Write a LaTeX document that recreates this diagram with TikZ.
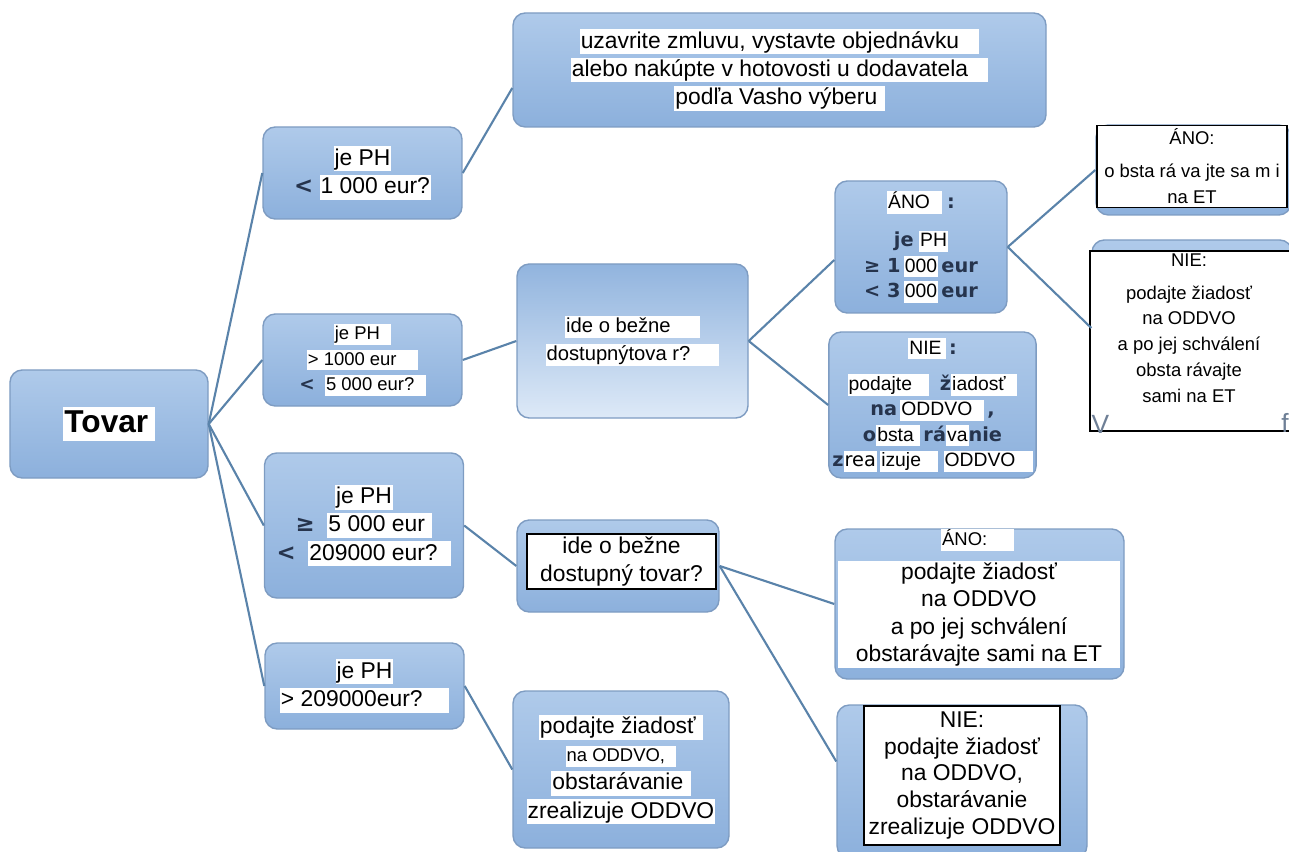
\documentclass[tikz,border=0pt]{standalone}
\usepackage{fontspec}
\setmainfont{Liberation Sans}
\newfontfamily\djv{DejaVu Sans}
\usepackage{tikz}
\usetikzlibrary{positioning}
\usepackage{xcolor}
\definecolor{tvTop}{HTML}{AFCAEA}
\definecolor{tvBottom}{HTML}{8CB0DC}
\definecolor{tvPale}{HTML}{DDE9F7}
\definecolor{tvBorder}{HTML}{7E9CC2}
\definecolor{tvLine}{HTML}{5A83AA}
\definecolor{tvInk}{HTML}{26344D}
\definecolor{tvGhost}{HTML}{6E7F96}

\newcommand{\fsz}[2]{\fontsize{#1}{#2}\selectfont}
\newcommand{\hl}[1]{{\setlength{\fboxsep}{0.6pt}\colorbox{white}{\rule[-0.22em]{0pt}{1em}#1}}}
\newcommand{\dk}{\djv\bfseries\color{tvInk}}

\tikzset{
    tvbox/.style={rectangle,rounded corners=7pt,draw=tvBorder,top color=tvTop,bottom color=tvBottom,align=center,inner sep=2pt,line width=0.8pt},
    sheet/.style={rectangle,draw=black,fill=white,align=center,inner sep=2pt,line width=0.6pt},
    link/.style={tvLine,line width=1.2pt}
}

\begin{document}
\begin{tikzpicture}[font=\fsz{13}{16},
    qbox/.style={tvbox,minimum width=3.98cm},
    note/.style={font=\fsz{15}{16},text=tvGhost,inner sep=0pt}
]
  \useasboundingbox (0,0) rectangle (25.78,-17.04);

  % Root and the four price questions
  \node[tvbox,minimum width=3.96cm,minimum height=2.16cm,font=\fsz{18}{20}\bfseries] at (2.18,-8.48) (tovar) {\hl{Tovar\,}};
  \node[qbox,minimum height=1.84cm] at (7.25,-3.46) (q1) {\hl{je PH}\\{\dk <} \hl{1 000 eur?}};
  \node[qbox,minimum height=1.84cm,font=\fsz{10.5}{14.5}] at (7.25,-7.20) (q2) {\hl{je PH\ \ }\\\hl{> 1000 eur\ \ \ \ }\\{\dk <}\ \ \hl{5 000 eur?\ \ }};
  \node[qbox,minimum height=2.90cm] at (7.28,-10.51) (q3) {\hl{je PH}\\{\dk ≥}\ \ \hl{5 000 eur\ }\\{\dk <}\ \ \hl{209000 eur?\ \ }};
  \node[qbox,minimum height=1.72cm] at (7.29,-13.72) (q4) {\hl{je PH}\\\hl{> 209000eur?\ \ \ \ }};

  % Small purchase
  \node[tvbox,minimum width=10.66cm,minimum height=2.28cm] at (15.59,-1.40) (act1) {\hl{uzavrite zmluvu, vystavte objednávku\ \ \ }\\\hl{alebo nakúpte v hotovosti u dodavatela\ \ \ }\\\hl{podľa Vasho výberu\ }};

  % Middle branch
  \node[tvbox,minimum width=4.62cm,minimum height=3.08cm,top color=tvBottom!85!tvTop,middle color=tvBottom!80!white,bottom color=tvPale,font=\fsz{11.5}{16}] at (12.65,-6.82) (dec1) {\hl{ide o bežne\ \ \ \ \ }\\\hl{dostupnýtova r?\ \ \ \ \ }};
  \node[tvbox,minimum width=3.44cm,minimum height=2.64cm,font=\fsz{11}{14.5}] at (18.42,-4.94) (ano1) {\hl{ÁNO\ \ }\ {\dk :}\\[7pt]{\dk je} \hl{PH}\\{\dk ≥ 1}\,\hl{000}\,{\dk eur}\\{\dk < 3}\,\hl{000}\,{\dk eur}};
  \node[tvbox,minimum width=3.90cm,minimum height=2.92cm,font=\fsz{11}{14.5}] at (18.65,-8.10) (nie1) {\hl{NIE\,}\,{\dk :}\\[6pt]\hl{podajte\ \ \ }\ \ {\dk ž}\hl{iadosť\ \ }\\{\dk na}\,\hl{ODDVO\ \ }\,{\dk ,}\\{\dk o}\hl{bsta\ }\,{\dk rá}\hl{va}{\dk nie}\\{\dk z}\hl{\djv rea}\,\hl{izuje\ \ \ }\ \hl{ODDVO\ \ \ }};

  % Far right answers
  \node[tvbox,minimum width=3.90cm,minimum height=1.80cm] at (23.87,-3.40) (anoR) {};
  \node[sheet,minimum width=3.80cm,minimum height=1.62cm,font=\fsz{10.5}{15.3}] at (23.84,-3.33) (anoRtxt) {ÁNO:\\[3pt]o bsta rá va jte sa m i\\na ET};
  \node[tvbox,minimum width=4.00cm,minimum height=3.80cm] at (23.84,-6.70) (nieR) {};
  \node[sheet,minimum width=4.10cm,minimum height=3.60cm] at (23.85,-6.82) (nieRsheet) {};
  \node[align=center,font=\fsz{10.5}{14.7}] at (23.78,-6.56) (nieRtxt) {NIE:\\[4pt]podajte žiadosť\\na ODDVO\\a po jej schválení\\obsta rávajte\\sami na ET};
  \node[note] at (22.01,-8.48) (nieRv) {V};
  \node[note] at (25.70,-8.46) (nieRf) {f};

  % Lower branch
  \node[tvbox,minimum width=4.04cm,minimum height=1.84cm] at (12.36,-11.32) (dec2) {};
  \node[sheet,minimum width=3.78cm,minimum height=1.10cm,inner sep=1pt] at (12.43,-11.23) (dec2txt) {ide o bežne\\dostupný tovar?};
  \node[tvbox,minimum width=5.78cm,minimum height=3.00cm] at (19.59,-12.08) (ano2) {};
  \node[rectangle,fill=white,minimum width=5.64cm,minimum height=2.14cm,align=center,inner sep=1pt,font=\fsz{13}{15.5}] at (19.58,-12.29) (ano2txt) {podajte žiadosť\\na ODDVO\\a po jej schválení\\obstarávajte sami na ET};
  \node[font=\fsz{10.5}{12}] at (19.55,-10.80) (ano2head) {\hl{ÁNO:\ \ \ \ \ }};
  \node[tvbox,minimum width=5.00cm,minimum height=3.06cm] at (19.24,-15.63) (nie2) {};
  \node[sheet,minimum width=3.92cm,minimum height=2.78cm,font=\fsz{13}{15.3}] at (19.24,-15.51) (nie2txt) {NIE:\\podajte žiadosť\\na ODDVO,\\obstarávanie\\zrealizuje ODDVO};
  \node[tvbox,minimum width=4.32cm,minimum height=3.14cm] at (12.42,-15.39) (act2) {\hl{podajte žiadosť\ }\\{\fsz{10.5}{16}\hl{na ODDVO,\ \ }}\\\hl{obstarávanie\ }\\\hl{zrealizuje ODDVO}};

  % Connectors
  \draw[link] (tovar.east) -- (q1.west);
  \draw[link] (tovar.east) -- (q2.west);
  \draw[link] (tovar.east) -- (q3.west);
  \draw[link] (tovar.east) -- (q4.west);
  \draw[link] (q1.east) -- ([yshift=-0.36cm]act1.west);
  \draw[link] (q2.east) -- (dec1.west);
  \draw[link] (dec1.east) -- ([yshift=-0.26cm]ano1.west);
  \draw[link] (dec1.east) -- (nie1.west);
  \draw[link] (ano1.east) -- (anoR.west);
  \draw[link] (ano1.east) -- ([yshift=0.14cm]nieR.west);
  \draw[link] (q3.east) -- (dec2.west);
  \draw[link] (dec2.east) -- (ano2.west);
  \draw[link] (dec2.east) -- ([yshift=0.4cm]nie2.west);
  \draw[link] (q4.east) -- (act2.west);
\end{tikzpicture}
\end{document}
